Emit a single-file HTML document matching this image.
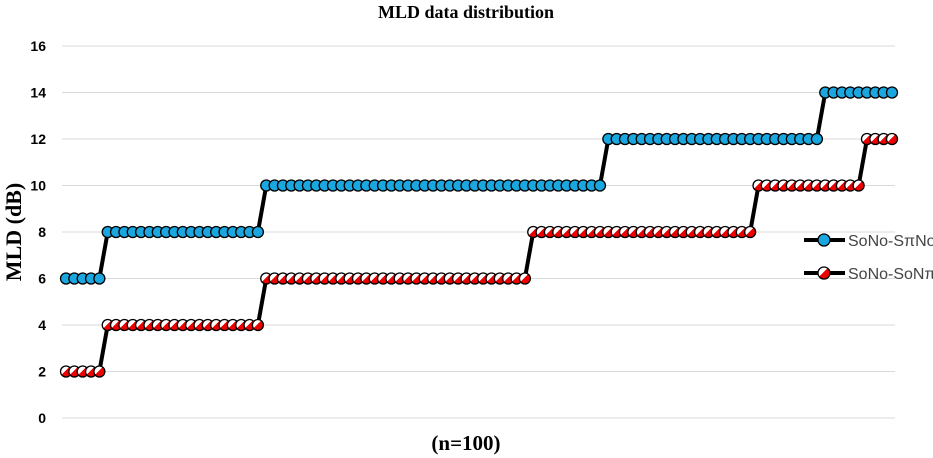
<!DOCTYPE html>
<html><head><meta charset="utf-8"><style>
body{margin:0;background:#fff;}
svg{display:block;}
</style></head><body>
<svg id="chart" width="933" height="458" xmlns="http://www.w3.org/2000/svg">
<defs>
<linearGradient id="redfill" x1="0" y1="0" x2="1" y2="1">
<stop offset="0" stop-color="#fff"/><stop offset="0.45" stop-color="#fff"/><stop offset="0.45" stop-color="#e00"/><stop offset="1" stop-color="#e00"/>
</linearGradient>
</defs>
<text x="466" y="18" text-anchor="middle" font-family="Liberation Serif, serif" font-weight="bold" font-size="18">MLD data distribution</text>
<text transform="translate(21,232) rotate(-90)" text-anchor="middle" font-family="Liberation Serif, serif" font-weight="bold" font-size="22">MLD (dB)</text>
<text x="466" y="450" text-anchor="middle" font-family="Liberation Serif, serif" font-weight="bold" font-size="21">(n=100)</text>
<g id="grid"></g><g id="series"></g>
<g>
<g>
<line x1="804" y1="240" x2="845" y2="240" stroke="#000" stroke-width="4"/>
<circle cx="824" cy="240" r="6" fill="#1aa7e0" stroke="#000" stroke-width="1.3"/>
<text x="848" y="246" font-family="Liberation Sans, sans-serif" font-size="16" fill="#444">SoNo-SπNo</text></g>
<g>
<line x1="804" y1="273" x2="845" y2="273" stroke="#000" stroke-width="4"/>
<circle cx="824" cy="273" r="6" fill="url(#redfill)" stroke="#000" stroke-width="1.3"/>
<text x="848" y="279" font-family="Liberation Sans, sans-serif" font-size="16" fill="#444">SoNo-SoNπ</text></g>
</g>
</svg>
<script>
const yTicks=[0,2,4,6,8,10,12,14,16];
const blueLevels=[6,8,10,12,14];
const blueCounts=[5,19,41,26,9];
const redLevels=[2,4,6,8,10,12];
const redCounts=[5,19,32,27,13,4];
const N=100;
const NS='http://www.w3.org/2000/svg';
const x0=66,x1=892,yb=418,yt=46;
const X=i=>x0+i*(x1-x0)/(N-1);
const Y=v=>yb-(v/16)*(yb-yt);
function expand(l,c){const a=[];l.forEach((v,k)=>{for(let j=0;j<c[k];j++)a.push(v);});return a;}
const grid=document.getElementById('grid');
yTicks.forEach(t=>{
 const ln=document.createElementNS(NS,'line');
 ln.setAttribute('x1',62);ln.setAttribute('x2',895);ln.setAttribute('y1',Y(t));ln.setAttribute('y2',Y(t));
 ln.setAttribute('stroke','#d9d9d9');ln.setAttribute('stroke-width','1');
 
 
 grid.appendChild(ln);
 const tx=document.createElementNS(NS,'text');
 tx.setAttribute('x',46);tx.setAttribute('y',Y(t)+5);tx.setAttribute('text-anchor','end');
 tx.setAttribute('font-family','Liberation Sans, sans-serif');tx.setAttribute('font-weight','bold');tx.setAttribute('font-size','14');
 tx.textContent=t;
 
 
 grid.appendChild(tx);
});
const ser=document.getElementById('series');
function draw(vals,fill,name){
 const g=document.createElementNS(NS,'g');
 
 
 const pl=document.createElementNS(NS,'polyline');
 pl.setAttribute('points',vals.map((v,i)=>X(i)+','+Y(v)).join(' '));
 pl.setAttribute('fill','none');pl.setAttribute('stroke','#000');pl.setAttribute('stroke-width','4');
 
 
 g.appendChild(pl);
 vals.forEach((v,i)=>{
  const c=document.createElementNS(NS,'circle');
  c.setAttribute('cx',X(i));c.setAttribute('cy',Y(v));c.setAttribute('r',5.5);
  c.setAttribute('fill',fill);c.setAttribute('stroke','#000');c.setAttribute('stroke-width','1.3');
  
  
  g.appendChild(c);
 });
 ser.appendChild(g);
}
draw(expand(redLevels,redCounts),'url(#redfill)','series-sono-sonpi');
draw(expand(blueLevels,blueCounts),'#1aa7e0','series-sono-spino');
</script>
</body></html>
